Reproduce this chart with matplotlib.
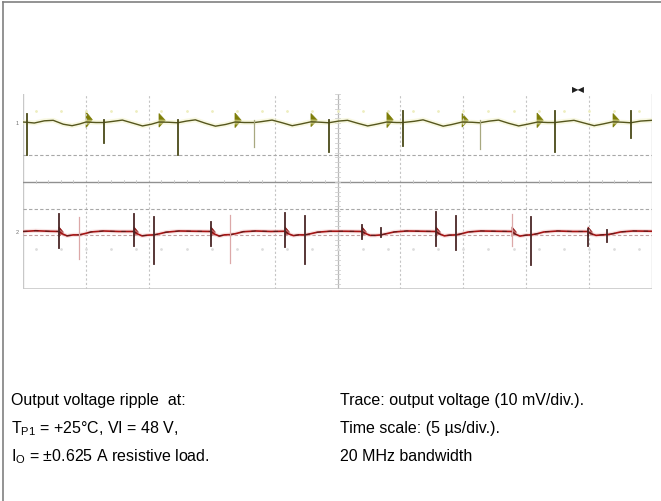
import matplotlib.pyplot as plt
from matplotlib.lines import Line2D

plt.rcParams["font.family"] = ["Liberation Sans", "DejaVu Sans"]
plt.rcParams["mathtext.fontset"] = "custom"
plt.rcParams["mathtext.rm"] = "Liberation Sans"

# time in us (5 us/div, 10 div), amplitude in screen divisions (0..8)
green_t = [0.0, 0.3, 0.9, 1.7, 2.4, 3.2, 3.9, 4.5, 5.0,
           5.8, 6.4, 7.2, 7.9, 8.7, 9.5, 10.2, 10.8,
           11.6, 12.3, 13.0, 13.7, 14.5, 15.3, 16.1, 16.85,
           17.6, 18.4, 19.0, 19.8, 20.6, 21.4, 22.1, 22.9,
           23.7, 24.3, 25.1, 25.8, 26.6, 27.4, 28.1, 28.9,
           29.7, 30.2, 31.1, 31.8, 32.6, 33.4, 34.1, 34.9,
           35.7, 36.3, 37.1, 37.8, 38.6, 39.4, 40.1, 40.9,
           41.7, 42.3, 43.1, 43.8, 44.6, 45.4, 46.1, 46.9,
           47.7, 48.3, 49.1, 50.0]
green_v = [6.85, 6.84, 6.81, 6.90, 6.92, 6.76, 6.70, 6.77, 6.85,
           6.83, 6.83, 6.88, 6.93, 6.81, 6.69, 6.76, 6.85,
           6.84, 6.82, 6.89, 6.94, 6.80, 6.68, 6.75, 6.85,
           6.83, 6.83, 6.87, 6.93, 6.82, 6.70, 6.77, 6.86,
           6.84, 6.82, 6.89, 6.92, 6.80, 6.69, 6.76, 6.85,
           6.83, 6.83, 6.88, 6.94, 6.81, 6.68, 6.75, 6.85,
           6.84, 6.82, 6.89, 6.93, 6.80, 6.69, 6.76, 6.85,
           6.83, 6.83, 6.88, 6.92, 6.81, 6.70, 6.77, 6.86,
           6.84, 6.82, 6.89, 6.92]

green_spike_t = [0.32, 6.44, 12.32, 18.36, 24.32, 30.21, 36.33, 42.29, 48.33]
green_spike_lo = [5.50, 5.99, 5.50, 5.83, 5.62, 5.87, 5.74, 5.62, 6.19]
green_spike_hi = [7.18, 6.95, 6.95, 6.95, 6.95, 7.30, 6.95, 7.30, 7.30]
green_spike_dark = [1, 1, 1, 0, 1, 1, 0, 1, 1]

green_burst_t = [5.01, 10.81, 16.85, 22.89, 28.93, 34.90, 40.86, 46.90]
green_burst_hi = [7.27, 7.20, 7.22, 7.20, 7.25, 7.20, 7.22, 7.20]
green_burst_lo = [6.62, 6.64, 6.62, 6.66, 6.62, 6.64, 6.62, 6.64]

red_t = [0.0, 1.0, 2.0, 2.86,
         3.1, 3.5, 4.0, 4.45, 4.9, 5.4, 6.4, 7.6, 8.82,
         9.06, 9.46, 9.93, 10.41, 10.8, 11.36, 12.4, 13.6, 14.94,
         15.2, 15.6, 16.0, 16.45, 16.9, 17.5, 18.5, 19.7, 20.83,
         21.07, 21.5, 21.9, 22.42, 22.8, 23.4, 24.4, 25.6, 26.95,
         27.2, 27.6, 28.0, 28.46, 28.9, 29.5, 30.5, 31.7, 32.83,
         33.07, 33.5, 33.9, 34.42, 34.8, 35.4, 36.4, 37.6, 38.87,
         39.1, 39.5, 39.98, 40.38, 40.9, 41.4, 42.5, 43.7, 44.91,
         45.15, 45.55, 46.0, 46.42, 46.9, 47.5, 48.5, 50.0]
red_v = [2.36, 2.39, 2.37, 2.36,
         2.27, 2.18, 2.22, 2.22, 2.27, 2.34, 2.38, 2.36, 2.36,
         2.27, 2.18, 2.21, 2.22, 2.26, 2.33, 2.38, 2.37, 2.36,
         2.26, 2.17, 2.22, 2.23, 2.27, 2.35, 2.38, 2.36, 2.37,
         2.27, 2.19, 2.22, 2.22, 2.26, 2.33, 2.37, 2.37, 2.36,
         2.28, 2.20, 2.20, 2.22, 2.27, 2.34, 2.38, 2.37, 2.36,
         2.27, 2.18, 2.21, 2.22, 2.26, 2.34, 2.38, 2.37, 2.36,
         2.26, 2.17, 2.21, 2.22, 2.27, 2.34, 2.38, 2.36, 2.36,
         2.27, 2.20, 2.22, 2.23, 2.27, 2.34, 2.38, 2.37]

red_spike_t = [2.86, 4.45, 8.82, 10.41, 14.94, 16.45, 20.83, 22.42,
               26.95, 28.46, 32.83, 34.42, 38.87, 40.38, 44.91, 46.42]
red_spike_hi = [3.08, 2.95, 3.08, 2.95, 2.75, 3.04, 3.12, 3.00,
                2.63, 2.50, 3.16, 3.00, 3.08, 2.95, 2.46, 2.42]
red_spike_lo = [1.68, 1.23, 1.76, 1.03, 1.76, 1.07, 1.72, 1.03,
                2.05, 2.13, 1.76, 1.60, 1.76, 0.98, 1.76, 1.93]
red_spike_dark = [1, 0, 1, 1, 1, 0, 1, 1, 1, 1, 1, 1, 0, 1, 1, 1]
red_blob_t = [2.86, 8.82, 14.94, 20.83, 26.95, 32.83, 38.87, 44.91]

grid_x = [5, 10, 20, 30, 35, 40, 45]
grid_y_dashed = [5.50, 3.30]
center_x = 25
center_y = 4.41
red_ref_y = 2.20

notes_left = ["Output voltage ripple  at:",
              r"T$_{\mathrm{P1}}$ = +25°C, VI = 48 V,",
              r"I$_{\mathrm{O}}$ = ±0.625 A resistive load."]
notes_right = ["Trace: output voltage (10 mV/div.).",
               "Time scale: (5 µs/div.).",
               "20 MHz bandwidth"]

fig = plt.figure(figsize=(6.61, 5.02), dpi=100)
fig.add_artist(Line2D([3 / 661, 3 / 661], [0, 1 - 3 / 502], color="#808080", lw=1.2))
fig.add_artist(Line2D([3 / 661, 1], [1 - 3 / 502, 1 - 3 / 502], color="#808080", lw=1.2))

ax = fig.add_axes([23 / 661, 1 - 290 / 502, 629 / 661, 195 / 502])
ax.set_xlim(0, 50)
ax.set_ylim(0, 8)
ax.axis("off")

# graticule
for gx in grid_x:
    ax.axvline(gx, color="#c4c4c4", lw=0.8, ls=(0, (2, 2)))
ax.axvline(center_x, color="#b8b8b8", lw=0.9)
ax.axvline(0, color="#c8c8c8", lw=1.0)
ax.axvline(50, color="#c8c8c8", lw=1.0)
ax.axhline(0, color="#c8c8c8", lw=1.2)
for gy in grid_y_dashed:
    ax.axhline(gy, color="#a8a8a8", lw=0.8, ls=(0, (3, 2)))
ax.axhline(center_y, color="#909090", lw=1.0)
ax.axhline(red_ref_y, color="#c0a0a0", lw=0.8, ls=(0, (3, 2)))
for k in range(51):
    if k % 5:
        ax.plot([k, k], [center_y - 0.06, center_y + 0.06], color="#c8c8c8", lw=0.6)
for k in range(41):
    ax.plot([center_x - 0.2, center_x + 0.2], [k / 5, k / 5], color="#d0d0d0", lw=0.6)
for k in range(1, 50, 2):
    ax.plot(k, 7.3, ".", color="#eeeec0", ms=2)
    ax.plot(k, 1.65, ".", color="#dddddd", ms=2)

# channel 1 (olive)
ax.plot(green_t, green_v, color="#f2f2c4", lw=3.5, alpha=0.5, solid_capstyle="butt")
ax.plot(green_t, green_v, color="#55561e", lw=1.0)
for t, lo, hi, dk in zip(green_spike_t, green_spike_lo, green_spike_hi, green_spike_dark):
    ax.plot([t, t], [lo, hi], color="#4a4a18" if dk else "#a8a880", lw=1.3 if dk else 0.9)
for t, hi, lo in zip(green_burst_t, green_burst_hi, green_burst_lo):
    ax.fill([t, t, t + 0.5], [hi, lo, (hi + lo) / 2], color="#7e7e08", lw=0.5)

# channel 2 (red)
ax.plot(red_t, red_v, color="#f2c8c8", lw=3.0, alpha=0.5)
ax.plot(red_t, red_v, color="#a51414", lw=1.2)
ax.plot(red_t, red_v, color="#202020", lw=0.8, alpha=0.55, ls=(0, (4, 6)))
for t, lo, hi, dk in zip(red_spike_t, red_spike_lo, red_spike_hi, red_spike_dark):
    ax.plot([t, t], [lo, hi], color="#4a2626" if dk else "#dca8a8", lw=1.3 if dk else 0.9)
for t in red_blob_t:
    ax.fill([t, t, t + 0.35], [2.55, 2.15, 2.33], color="#8c1010", lw=0.5)

# channel markers and readout
ax.text(-0.35, 6.85, "1", fontsize=4, color="#707070", ha="right", va="center")
ax.text(-0.35, 2.36, "2", fontsize=4, color="#707070", ha="right", va="center")
ax.text(43.6, 8.05, "▶◀", fontsize=6, color="#202020", ha="left", va="bottom")

for i, (left, right) in enumerate(zip(notes_left, notes_right)):
    y = 1 - (401 + 28 * i) / 502
    fig.text(11 / 661, y, left, fontsize=11.5, va="center", ha="left")
    fig.text(340 / 661, y, right, fontsize=11.5, va="center", ha="left")

fig.savefig("out.png", dpi=100, facecolor="white")
